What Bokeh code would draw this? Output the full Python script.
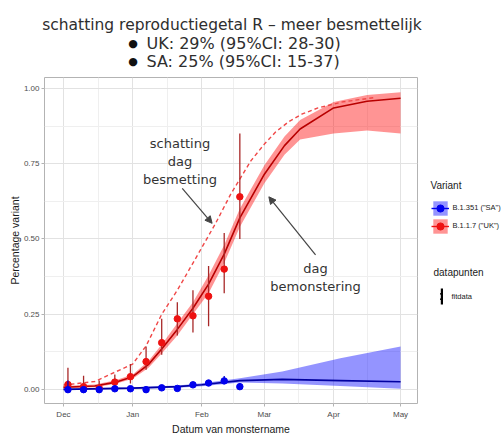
import pandas as pd
from bokeh.plotting import figure
from bokeh.layouts import column, row
from bokeh.models import (Range1d, FixedTicker, DatetimeTickFormatter, NumeralTickFormatter,
                          Label, Arrow, NormalHead, Legend, LegendItem, ColumnDataSource)
from bokeh.embed import file_html
from bokeh.resources import INLINE

# ---------------- data ----------------
sample_dates = ["2020-12-03", "2020-12-10", "2020-12-17", "2020-12-24", "2020-12-31",
                "2021-01-07", "2021-01-14", "2021-01-21", "2021-01-28", "2021-02-04",
                "2021-02-11", "2021-02-18"]
uk_obs = [0.017, 0.010, 0.005, 0.025, 0.043, 0.093, 0.156, 0.235, 0.245, 0.31, 0.40, 0.64]
uk_obs_lo = [0.0, 0.0, 0.0, 0.008, 0.02, 0.066, 0.116, 0.18, 0.19, 0.21, 0.32, 0.50]
uk_obs_hi = [0.073, 0.046, 0.03, 0.05, 0.085, 0.143, 0.235, 0.29, 0.33, 0.41, 0.52, 0.85]
sa_obs = [0.0, 0.0, 0.0, 0.003, 0.003, 0.0, 0.006, 0.004, 0.016, 0.022, 0.029, 0.01]
sa_obs_lo = [0.0, 0.0, 0.0, 0.0, 0.0, 0.0, 0.002, 0.001, 0.01, 0.016, 0.02, 0.0]
sa_obs_hi = [0.03, 0.006, 0.004, 0.008, 0.008, 0.004, 0.012, 0.009, 0.024, 0.03, 0.045, 0.022]

uk_fit_dates = ["2020-12-01", "2020-12-15", "2020-12-24", "2021-01-01", "2021-01-08",
                "2021-01-14", "2021-01-21", "2021-01-28", "2021-02-04", "2021-02-11",
                "2021-02-18", "2021-03-01", "2021-03-10", "2021-03-17", "2021-04-01",
                "2021-04-16", "2021-05-01"]
uk_fit = [0.008, 0.012, 0.024, 0.043, 0.083, 0.135, 0.20, 0.27, 0.35, 0.45, 0.57, 0.715,
          0.81, 0.865, 0.935, 0.957, 0.967]
uk_fit_lo = [0.004, 0.008, 0.019, 0.036, 0.072, 0.12, 0.18, 0.25, 0.32, 0.42, 0.54, 0.685,
             0.78, 0.83, 0.85, 0.86, 0.85]
uk_fit_hi = [0.012, 0.017, 0.03, 0.05, 0.094, 0.15, 0.22, 0.29, 0.38, 0.48, 0.60, 0.745,
             0.84, 0.895, 0.955, 0.978, 0.987]

uk_inf_dates = ["2020-12-01", "2020-12-15", "2021-01-01", "2021-01-07", "2021-01-14",
                "2021-01-21", "2021-01-28", "2021-02-07", "2021-02-14", "2021-02-23",
                "2021-03-01", "2021-03-06", "2021-03-12", "2021-03-18", "2021-03-25",
                "2021-04-05", "2021-04-20"]
uk_inf = [0.015, 0.027, 0.085, 0.145, 0.25, 0.33, 0.42, 0.55, 0.65, 0.76, 0.815, 0.855,
          0.89, 0.915, 0.935, 0.955, 0.97]

sa_fit_dates = ["2020-12-01", "2021-01-01", "2021-01-21", "2021-02-01", "2021-02-18",
                "2021-03-09", "2021-04-04", "2021-05-01"]
sa_fit = [0.001, 0.005, 0.01, 0.016, 0.03, 0.034, 0.03, 0.026]
sa_fit_lo = [0.0, 0.002, 0.006, 0.011, 0.024, 0.02, 0.012, 0.003]
sa_fit_hi = [0.003, 0.008, 0.014, 0.021, 0.038, 0.06, 0.104, 0.143]

month_ticks = ["2020-12-01", "2021-01-01", "2021-02-01", "2021-03-01", "2021-04-01", "2021-05-01"]
y_ticks = [0.0, 0.25, 0.5, 0.75, 1.0]
y_minor = [0.125, 0.375, 0.625, 0.875]

title_main = "schatting reproductiegetal R \u2013 meer besmettelijk"
title_uk = "UK: 29% (95%CI: 28-30)"
title_sa = "SA: 25% (95%CI: 15-37)"
bullet = "\u25cf"
variant_labels = ['B.1.351 ("SA")', 'B.1.1.7 ("UK")']


# ---------------- helpers ----------------
def ms(s):
    return pd.Timestamp(s).value / 1e6


RED = "#ff0000"
BLUE = "#0000ff"
TXT = "#1a1a1a"
TITLE_C = "#2e2e2e"


def blank_fig(w, h, ymax=None, top=0, bottom=0):
    f = figure(width=w, height=h, output_backend="svg", toolbar_location=None, title=None,
               x_axis_location=None, y_axis_location=None,
               x_range=Range1d(0, w), y_range=Range1d(0, ymax if ymax else h),
               min_border=0, min_border_left=0, min_border_right=0,
               min_border_top=top, min_border_bottom=bottom)
    f.outline_line_color = None
    f.grid.visible = False
    f.background_fill_color = "white"
    f.border_fill_color = "white"
    return f


# ---------------- title strip (page y 0..76) ----------------
tf = blank_fig(502, 76)
tf.add_layout(Label(x=231.5, y=52, text=title_main, text_font="DejaVu Sans",
                    text_font_size="15.5px", text_color=TITLE_C,
                    text_align="center", text_baseline="middle"))
for yy, txt in ((33, title_uk), (15, title_sa)):
    tf.add_layout(Label(x=132.5, y=yy, text=bullet, text_font="DejaVu Sans",
                        text_font_size="11px", text_color="#111111",
                        text_align="center", text_baseline="middle"))
    tf.add_layout(Label(x=146, y=yy, text=txt, text_font="DejaVu Sans",
                        text_font_size="16px", text_color=TITLE_C,
                        text_align="left", text_baseline="middle"))

# ---------------- main plot (page y 76..437, frame 77..403) ----------------
PH = 361
BOT = 34
month_ms = [ms(d) for d in month_ticks]
minor_ms = [(a + b) / 2 for a, b in zip(month_ms[:-1], month_ms[1:])]

p = figure(width=419, height=PH, x_axis_type="datetime", output_backend="svg",
           toolbar_location=None, title=None,
           x_range=Range1d(ms("2020-11-22 12:00"), ms("2021-05-08 14:00")),
           y_range=Range1d(-0.046, 1.036),
           min_border_left=44, min_border_right=2, min_border_top=1, min_border_bottom=BOT)
p.background_fill_color = "white"
p.border_fill_color = "white"
p.outline_line_color = "#b3b3b3"
p.outline_line_width = 1

p.xaxis.ticker = FixedTicker(ticks=month_ms, minor_ticks=minor_ms)
p.xaxis.formatter = DatetimeTickFormatter(days="%b", months="%b", years="%b")
p.yaxis.ticker = FixedTicker(ticks=y_ticks, minor_ticks=y_minor)
p.yaxis.formatter = NumeralTickFormatter(format="0.00")
for ax in (p.xaxis[0], p.yaxis[0]):
    ax.axis_line_color = None
    ax.major_tick_line_color = "#b3b3b3"
    ax.major_tick_in = 0
    ax.major_tick_out = 3
    ax.minor_tick_line_color = None
    ax.major_label_text_font = "Liberation Sans"
    ax.major_label_text_font_size = "8px"
    ax.major_label_text_color = "#4d4d4d"
    ax.major_label_standoff = 2
    ax.axis_label_text_font = "Liberation Sans"
    ax.axis_label_text_font_size = "10.5px"
    ax.axis_label_text_font_style = "normal"
    ax.axis_label_text_color = TXT
    ax.axis_label_standoff = 1
p.yaxis.major_label_standoff = 1
p.yaxis.axis_label_standoff = 0
p.xaxis.axis_label = "Datum van monstername"
p.yaxis.axis_label = "Percentage variant"

for g in (p.xgrid[0], p.ygrid[0]):
    g.grid_line_color = "#e2e2e2"
    g.grid_line_width = 1
    g.minor_grid_line_color = "#efefef"
    g.minor_grid_line_width = 1

# fits
ukf = ColumnDataSource(dict(x=pd.to_datetime(uk_fit_dates), y=uk_fit, lo=uk_fit_lo, hi=uk_fit_hi))
saf = ColumnDataSource(dict(x=pd.to_datetime(sa_fit_dates), y=sa_fit, lo=sa_fit_lo, hi=sa_fit_hi))
uki = ColumnDataSource(dict(x=pd.to_datetime(uk_inf_dates), y=uk_inf))

p.varea(x="x", y1="lo", y2="hi", source=ukf, fill_color=RED, fill_alpha=0.42)
p.varea(x="x", y1="lo", y2="hi", source=saf, fill_color=BLUE, fill_alpha=0.42)
p.line(x="x", y="y", source=uki, line_color="#f04848", line_width=1.4, line_dash="4 3")
p.line(x="x", y="y", source=ukf, line_color="#b80000", line_width=1.6)
p.line(x="x", y="y", source=saf, line_color="#0000a0", line_width=1.6)

# observed points
obs = ColumnDataSource(dict(x=pd.to_datetime(sample_dates), uk=uk_obs, uk_lo=uk_obs_lo,
                            uk_hi=uk_obs_hi, sa=sa_obs, sa_lo=sa_obs_lo, sa_hi=sa_obs_hi))
p.segment(x0="x", y0="uk_lo", x1="x", y1="uk_hi", source=obs, line_color="#a82828", line_width=1.3)
p.scatter(x="x", y="uk", source=obs, size=6.5, fill_color="#ee1111", line_color="#ee1111")
p.segment(x0="x", y0="sa_lo", x1="x", y1="sa_hi", source=obs, line_color="#0000cc", line_width=1.3)
p.scatter(x="x", y="sa", source=obs, size=6.5, fill_color="#0000ee", line_color="#0000ee")

# annotations
p.add_layout(Label(x=ms("2021-01-22 05:00"), y=0.758, text="schatting\ndag\nbesmetting",
                   text_font="DejaVu Sans", text_font_size="13px", text_color="#333333",
                   text_align="center", text_baseline="middle"))
p.add_layout(Label(x=ms("2021-03-23 22:00"), y=0.371, text="dag\nbemonstering",
                   text_font="DejaVu Sans", text_font_size="13px", text_color="#333333",
                   text_align="center", text_baseline="middle"))
p.add_layout(Arrow(end=NormalHead(size=7, fill_color="#444444", line_color="#444444"),
                   x_start=ms("2021-01-23 05:00"), y_start=0.668,
                   x_end=ms("2021-02-05 14:00"), y_end=0.552,
                   line_color="#444444", line_width=1.2))
p.add_layout(Arrow(end=NormalHead(size=7, fill_color="#444444", line_color="#444444"),
                   x_start=ms("2021-03-23 22:00"), y_start=0.447,
                   x_end=ms("2021-03-03 00:00"), y_end=0.640,
                   line_color="#444444", line_width=1.2))

# ---------------- legend strip (page x 419..502, frame aligned with plot frame) ----------------
FH = PH - 1 - BOT  # frame height (326)
lf = blank_fig(83, PH, ymax=FH, top=1, bottom=BOT)
nan = float("nan")
ksrc = ColumnDataSource(dict(x=[nan], y=[nan]))
sa_k = [lf.varea(x="x", y1="y", y2="y", source=ksrc, fill_color=BLUE, fill_alpha=0.42),
        lf.line(x="x", y="y", source=ksrc, line_color="#0000ee", line_width=1.4),
        lf.scatter(x="x", y="y", source=ksrc, size=7, fill_color="#0000ee", line_color="#0000ee")]
uk_k = [lf.varea(x="x", y1="y", y2="y", source=ksrc, fill_color=RED, fill_alpha=0.42),
        lf.line(x="x", y="y", source=ksrc, line_color="#ee1111", line_width=1.4),
        lf.scatter(x="x", y="y", source=ksrc, size=7, fill_color="#ee1111", line_color="#ee1111")]
fit_k = [lf.vbar(x="x", top="y", bottom=0, width=1, source=ksrc, fill_color="black", line_color=None),
         lf.scatter(x="x", y="y", source=ksrc, size=1, fill_color="black",
                    line_color="black", line_width=6)]

leg1 = Legend(items=[LegendItem(label=variant_labels[0], renderers=sa_k),
                     LegendItem(label=variant_labels[1], renderers=uk_k)],
              location=(11.5, 168.5), title="Variant",
              padding=0, margin=0, spacing=0, border_line_color=None, background_fill_alpha=0,
              glyph_width=18, glyph_height=18, label_height=18, label_standoff=4,
              title_text_font="Liberation Sans", title_text_font_size="10px",
              title_text_font_style="normal", title_text_color=TXT, title_standoff=8,
              label_text_font="Liberation Sans", label_text_font_size="7.5px",
              label_text_color=TXT)
lf.add_layout(leg1)
leg2 = Legend(items=[LegendItem(label="fitdata", renderers=fit_k)],
              location=(20.5, 97), padding=0, margin=0, spacing=0,
              border_line_color=None, background_fill_alpha=0,
              glyph_width=3, glyph_height=20, label_height=20, label_standoff=9,
              label_text_font="Liberation Sans", label_text_font_size="7.5px",
              label_text_color=TXT)
lf.add_layout(leg2)
lf.add_layout(Label(x=14, y=131, text="datapunten", text_font="Liberation Sans",
                    text_font_size="10px", text_color=TXT,
                    text_align="left", text_baseline="middle"))

layout = column(tf, row(p, lf))
open("out.html", "w").write(file_html(layout, INLINE))
